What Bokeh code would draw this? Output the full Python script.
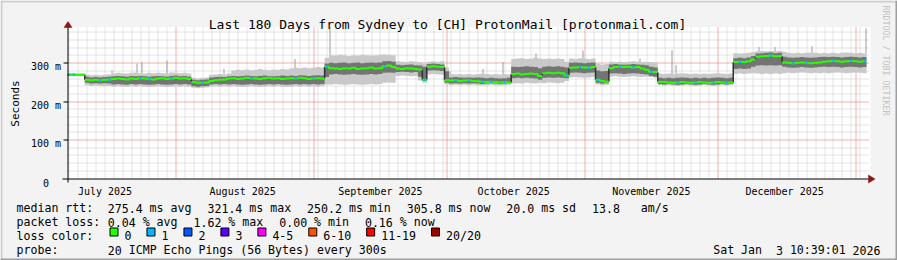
import numpy as np
import pandas as pd
from bokeh.plotting import figure
from bokeh.models import Range1d
from bokeh.core.properties import value
from bokeh.embed import file_html
from bokeh.resources import INLINE

# ---------------- data ----------------
TITLE = "Last 180 Days from Sydney to [CH] ProtonMail [protonmail.com]"
END = pd.Timestamp("2026-01-03 10:39:01")
NDAYS = 180

# median rtt per day (ms)
median_ms = [
    271, 271, 271, 271, 258, 257, 258, 257, 258, 259,
    260, 261, 260, 259, 261, 260, 262, 261, 260, 259,
    261, 262, 260, 261, 263, 261, 262, 260, 252, 250,
    250, 251, 255, 257, 258, 259, 261, 262, 260, 261,
    263, 262, 261, 260, 262, 263, 261, 262, 260, 261,
    262, 261, 263, 262, 260, 261, 262, 261, 292, 288,
    287, 286, 288, 287, 289, 286, 287, 288, 290, 287,
    288, 293, 295, 291, 287, 286, 288, 287, 286, 285,
    258, 292, 293, 292, 291, 257, 256, 257, 255, 256,
    257, 255, 254, 253, 252, 253, 252, 251, 252, 251,
    273, 274, 272, 273, 274, 273, 268, 275, 276, 275,
    276, 275, 269, 289, 290, 291, 290, 289, 291, 258,
    255, 253, 288, 291, 292, 291, 292, 290, 291, 287,
    284, 279, 278, 253, 252, 251, 250, 251, 252, 251,
    250, 251, 252, 251, 250, 251, 252, 251, 250, 251,
    304, 305, 304, 306, 311, 318, 319, 320, 321, 319,
    320, 303, 302, 301, 302, 303, 302, 301, 302, 303,
    305, 306, 307, 306, 305, 306, 307, 306, 305, 306,
]
# smoke: outer (light) band and core (dark) band per day (ms)
out_lo = [
    267, 267, 268, 267, 244, 242, 243, 242, 241, 242,
    240, 241, 240, 239, 241, 240, 241, 240, 239, 240,
    241, 240, 239, 240, 241, 240, 241, 240, 237, 236,
    237, 238, 240, 241, 240, 241, 240, 241, 240, 239,
    240, 241, 240, 239, 240, 241, 240, 241, 240, 239,
    240, 241, 240, 241, 240, 241, 240, 241, 246, 246,
    247, 246, 245, 246, 247, 246, 245, 246, 247, 246,
    247, 250, 251, 250, 268, 269, 268, 267, 268, 256,
    250, 272, 273, 272, 271, 246, 244, 245, 244, 245,
    244, 245, 244, 243, 244, 245, 244, 243, 244, 245,
    248, 249, 248, 250, 249, 248, 250, 249, 251, 250,
    249, 250, 255, 264, 265, 264, 263, 264, 265, 246,
    244, 245, 266, 267, 266, 265, 266, 267, 266, 265,
    266, 265, 264, 244, 243, 244, 243, 242, 243, 244,
    243, 242, 243, 244, 243, 242, 243, 244, 243, 244,
    273, 274, 273, 274, 275, 274, 273, 274, 273, 274,
    273, 275, 276, 275, 276, 277, 276, 275, 276, 275,
    276, 275, 276, 277, 276, 275, 276, 277, 276, 275,
]
out_hi = [
    275, 275, 274, 275, 272, 270, 271, 270, 271, 272,
    274, 276, 275, 274, 276, 277, 275, 274, 276, 275,
    276, 275, 274, 277, 276, 275, 276, 274, 263, 262,
    263, 264, 271, 272, 273, 272, 274, 282, 284, 283,
    285, 283, 284, 286, 284, 283, 285, 284, 286, 285,
    287, 289, 288, 290, 288, 289, 291, 290, 315, 322,
    321, 323, 322, 320, 322, 321, 323, 322, 321, 322,
    323, 324, 323, 322, 306, 305, 304, 306, 305, 304,
    300, 305, 306, 305, 306, 290, 273, 272, 273, 272,
    273, 272, 273, 274, 273, 272, 273, 272, 273, 272,
    312, 313, 314, 312, 313, 315, 313, 312, 313, 312,
    313, 312, 305, 313, 312, 314, 313, 312, 313, 300,
    298, 299, 305, 304, 305, 304, 305, 306, 305, 304,
    305, 304, 303, 274, 273, 274, 273, 274, 275, 274,
    273, 274, 273, 274, 273, 274, 275, 274, 273, 274,
    327, 326, 327, 328, 330, 332, 333, 332, 333, 332,
    333, 331, 328, 327, 328, 327, 328, 329, 328, 327,
    328, 327, 328, 327, 328, 329, 328, 327, 328, 327,
]
core_lo = [
    269, 269, 269, 269, 250, 248, 249, 248, 249, 248,
    246, 247, 246, 245, 247, 246, 247, 246, 245, 246,
    247, 246, 245, 246, 247, 246, 247, 246, 241, 240,
    241, 242, 246, 247, 246, 247, 246, 247, 246, 245,
    246, 247, 246, 245, 246, 247, 246, 247, 246, 245,
    246, 247, 246, 247, 246, 247, 246, 247, 265, 272,
    273, 272, 271, 272, 273, 272, 271, 272, 273, 272,
    273, 276, 277, 276, 278, 279, 278, 277, 278, 266,
    255, 282, 283, 282, 281, 250, 248, 249, 248, 249,
    248, 249, 248, 247, 248, 249, 248, 247, 248, 249,
    262, 263, 262, 263, 262, 261, 258, 263, 264, 263,
    264, 263, 262, 276, 277, 276, 275, 276, 277, 250,
    248, 249, 274, 275, 274, 273, 274, 275, 274, 273,
    272, 268, 266, 247, 246, 247, 246, 245, 246, 247,
    246, 245, 246, 247, 246, 245, 246, 247, 246, 247,
    286, 287, 286, 287, 292, 295, 296, 295, 296, 295,
    296, 292, 290, 289, 290, 291, 290, 289, 290, 291,
    292, 291, 292, 291, 290, 291, 292, 291, 290, 291,
]
core_hi = [
    273, 273, 273, 273, 266, 264, 265, 264, 265, 266,
    267, 268, 267, 266, 268, 267, 268, 267, 266, 267,
    268, 267, 266, 268, 269, 267, 268, 266, 258, 257,
    258, 259, 264, 265, 266, 265, 267, 268, 267, 268,
    269, 268, 267, 268, 269, 268, 267, 268, 269, 268,
    269, 268, 270, 269, 268, 269, 270, 269, 300, 302,
    301, 302, 303, 301, 302, 303, 301, 302, 303, 302,
    303, 306, 307, 305, 297, 296, 297, 298, 296, 295,
    292, 299, 300, 299, 298, 280, 264, 265, 264, 263,
    264, 263, 264, 263, 262, 263, 262, 261, 262, 263,
    292, 291, 292, 293, 292, 291, 288, 292, 293, 292,
    293, 292, 290, 302, 303, 302, 301, 302, 303, 282,
    280, 281, 298, 299, 298, 297, 298, 299, 298, 297,
    296, 292, 290, 263, 262, 263, 262, 263, 264, 263,
    262, 263, 262, 263, 262, 263, 264, 263, 262, 263,
    314, 315, 314, 316, 320, 326, 327, 328, 329, 327,
    328, 318, 316, 315, 316, 317, 316, 315, 316, 317,
    318, 317, 318, 317, 316, 317, 318, 317, 316, 317,
]
# days on which one ping of 20 was lost
loss_days = [0, 1, 7, 9, 16, 18, 23, 30, 41, 51, 55, 58, 71, 80, 87, 90, 93, 95, 98,
             112, 115, 117, 119, 124, 127, 131, 137, 141, 145, 148, 151, 158, 163,
             166, 172, 176, 179]
# single-sample outliers (day, ms)
spike_day = [10.1, 15.8, 16.8, 22.6, 35.3, 51.4, 59.2, 86.3, 93.7, 98.2, 105.7,
             116.2, 129.1, 136.3, 137.0, 155.7, 159.5, 167.8, 179.9]
spike_ms = [282, 300, 304, 308, 286, 312, 395, 280, 286, 304, 326,
            334, 313, 335, 296, 343, 343, 345, 392]

month_starts = ["2025-07-01", "2025-08-01", "2025-09-01", "2025-10-01",
                "2025-11-01", "2025-12-01", "2026-01-01"]
month_labels = ["July 2025", "August 2025", "September 2025", "October 2025",
                "November 2025", "December 2025", "January 2026"]
y_ticks_ms = [0, 100, 200, 300]
y_tick_labels = ["0", "100 m", "200 m", "300 m"]
Y_TOP_MS = 390

rtt_items = ["median rtt:", "275.4 ms avg", "321.4 ms max", "250.2 ms min",
             "305.8 ms now", "20.0 ms sd", "13.8   am/s"]
loss_items = ["packet loss:", "0.04 % avg", "1.62 % max", "0.00 % min", "0.16 % now"]
loss_labels = ["0", "1", "2", "3", "4-5", "6-10", "11-19", "20/20"]
loss_colors = ["#26ff00", "#00b8ff", "#0059ff", "#5e00ff", "#ff00ff",
               "#ff5500", "#ff0000", "#a00000"]
probe_text = "20 ICMP Echo Pings (56 Bytes) every 300s"
stamp = "Sat Jan  3 10:39:01 2026"

# ---------------- layout ----------------
W, H = 897, 260
X0, X1 = 66.5, 866.0          # pixel of first / last day edge
Y0 = 178.5                    # pixel of 0 s
PXS = 150.0 / (Y_TOP_MS / 1000.0)   # pixels per second
PXD = (X1 - X0) / NDAYS
CW = 6.97                     # legend char advance
FONT = value("DejaVu Sans Mono")
BACK = "#f3f3f3"
GRID = "#c8c8c8"
MGRID = "#e06060"
ARROW = "#8b1414"
JUMP_MS = 6


def X(px):
    return (px - X0) / PXD


def Y(py):
    return (Y0 - py) / PXS


def pxx(d):
    return X0 + np.asarray(d, dtype=float) * PXD


def pxy(s):
    return Y0 - np.asarray(s, dtype=float) * PXS


def snap(px):
    return np.floor(px) + 0.5


start = END - pd.Timedelta(days=NDAYS)


def tday(ts):
    return (pd.Timestamp(ts) - start) / pd.Timedelta(days=1)


p = figure(width=W, height=H, x_range=Range1d(X(0), X(W)), y_range=Range1d(Y(H), Y(0)),
           output_backend="svg", toolbar_location=None, x_axis_location=None,
           y_axis_location=None, min_border=0, background_fill_color=BACK,
           border_fill_color=BACK, outline_line_color=None)
p.grid.visible = False

# frame shading
p.quad(left=[X(0), X(0)], right=[X(W), X(2)], top=[Y(0), Y(0)], bottom=[Y(2), Y(H)],
       fill_color="#cecece", line_color=None)
p.quad(left=[X(0), X(W - 2)], right=[X(W), X(W)], top=[Y(H - 2), Y(0)], bottom=[Y(H), Y(H)],
       fill_color="#9e9e9e", line_color=None)
# canvas
p.quad(left=[X(67)], right=[X(870)], top=[Y(26.5)], bottom=[Y(178.5)],
       fill_color="#ffffff", line_color=None)

# grid
GX0, GX1, GY0, GY1 = 67, 869, 27, 178
month_days = [tday(m) for m in month_starts]
major_days = [d for d in month_days if 0 < d < NDAYS]
nov1 = tday("2025-11-01")
minor_days = [nov1 + 2 * k for k in range(-80, 40)]
minor_days = [d for d in minor_days if 0 < d < NDAYS and min(abs(d - m) for m in major_days) > 0.5]
mx = X(snap(pxx(minor_days)))
p.segment(x0=mx, x1=mx, y0=Y(GY0), y1=Y(GY1), line_color=GRID, line_width=1, line_dash="1 1")
minor_ms = [v for v in range(20, Y_TOP_MS, 20) if v % 100]
my = Y(snap(pxy(np.array(minor_ms) / 1000.0) - 0.5))
p.segment(x0=X(GX0), x1=X(GX1), y0=my, y1=my, line_color=GRID, line_width=1, line_dash="1 1")
Mx = X(snap(pxx(major_days)))
p.segment(x0=Mx, x1=Mx, y0=Y(GY0), y1=Y(GY1), line_color=MGRID, line_width=1, line_dash="1 1")
major_ms = [v for v in y_ticks_ms if v > 0]
My = Y(snap(pxy(np.array(major_ms) / 1000.0) - 0.5))
p.segment(x0=X(GX0), x1=X(GX1), y0=My, y1=My, line_color=MGRID, line_width=1, line_dash="1 1")

# smoke
days = np.arange(NDAYS)
xs = np.repeat(days, 2) + np.tile([0, 1], NDAYS)


def step(v):
    return np.repeat(np.asarray(v, dtype=float) / 1000.0, 2)


p.varea(x=xs, y1=step(out_lo), y2=step(out_hi), fill_color="#c9c9c9")
p.varea(x=xs, y1=step(core_lo), y2=step(core_hi), fill_color="#747474")

# spikes
sd = np.array(spike_day)
base = np.array([out_hi[min(int(d), NDAYS - 1)] for d in sd]) / 1000.0
sxp = X(snap(pxx(sd)))
p.segment(x0=sxp, x1=sxp, y0=base, y1=np.array(spike_ms) / 1000.0,
          line_color="#9c9c9c", line_width=1)

# median: green step line, broken (dark) at big jumps, loss dots on top
med = np.array(median_ms, dtype=float) / 1000.0
jumps = [i for i in range(1, NDAYS) if abs(median_ms[i] - median_ms[i - 1]) > JUMP_MS]
bounds = [0] + jumps + [NDAYS]
run_x, run_y = [], []
for a, b in zip(bounds[:-1], bounds[1:]):
    rx = np.repeat(np.arange(a, b + 1), 2)[1:-1]
    ry = np.repeat(med[a:b], 2)
    run_x.append(rx.tolist())
    run_y.append(ry.tolist())
jx = np.array(jumps)
p.segment(x0=jx, x1=jx, y0=med[jx - 1], y1=med[jx], line_color="#303030", line_width=1.5)
p.multi_line(xs=run_x, ys=run_y, line_color=loss_colors[0], line_width=2)
ld = np.array(loss_days)
p.segment(x0=ld + 0.3, x1=ld + 0.75, y0=med[ld], y1=med[ld],
          line_color=loss_colors[1], line_width=2.5)

# axes
p.segment(x0=[X(62)], x1=[X(868)], y0=[Y(178.5)], y1=[Y(178.5)], line_color="#000000", line_width=1)
p.segment(x0=[X(67.5)], x1=[X(67.5)], y0=[Y(182)], y1=[Y(24)], line_color="#000000", line_width=1)
ty = Y(snap(pxy(np.array(major_ms) / 1000.0) - 0.5))
p.segment(x0=X(63), x1=X(67.5), y0=ty, y1=ty, line_color="#000000", line_width=1)
p.patches(xs=[[X(67.5), X(63.5), X(71.5)], [X(874.5), X(868), X(868)]],
          ys=[[Y(21), Y(27), Y(27)], [Y(178.5), Y(174.5), Y(182.5)]],
          fill_color=ARROW, line_color=ARROW, line_width=0.5)


# texts
def text(px, py, s, size, align="left", color="#000000", angle=0.0, baseline="alphabetic"):
    p.text(x=[X(px)], y=[Y(py)], text=[s], text_font=FONT, text_font_size=f"{size}px",
           text_align=align, text_baseline=baseline, text_color=color, angle=angle)


def mono(px, py, s, size=11.6, cw=CW):
    col = 0
    for tok in s.split(" "):
        if tok:
            text(px + col * cw, py, tok, size)
        col += len(tok) + 1


text(447, 24, TITLE, 13, align="center")
text(14.5, 103, "Seconds", 11, align="center", angle=np.pi / 2)
text(885, 5, "RRDTOOL / TOBI OETIKER", 8.3, align="left", color="#c2c2c2", angle=-np.pi / 2)

for ms, lab in zip(y_ticks_ms, y_tick_labels):
    right = 60.5 if " " in lab else 60.5 - 2 * 6.02
    gy = float(snap(pxy(ms / 1000.0) - 0.5))
    text(right, gy + 3.5, lab, 10, align="right")

for m, lab in zip(month_starts, month_labels):
    d = tday(pd.Timestamp(m) + pd.Timedelta(days=15))
    if 0 <= d <= NDAYS:
        text(float(pxx(d)), 190.5, lab, 10, align="center")

LBL_X, VAL_X, GAP = 16, 107.3, 16
rows = [207.5, 221.5, 235.0, 249.5]
for items, py in ((rtt_items, rows[0]), (loss_items, rows[1])):
    mono(LBL_X, py, items[0])
    x = VAL_X
    for it in items[1:]:
        mono(x, py, it)
        x += len(it) * CW + GAP

mono(LBL_X, rows[2], "loss color:")
bx = 109
for lab, col in zip(loss_labels, loss_colors):
    p.quad(left=[X(bx + 0.5)], right=[X(bx + 8.5)], top=[Y(227.5)], bottom=[Y(235.5)],
           fill_color=col, line_color="#000000", line_width=1)
    mono(bx + 15, rows[2], lab)
    bx = bx + 14 + len(lab) * CW + GAP

mono(LBL_X, rows[3], "probe:")
mono(VAL_X, rows[3], probe_text)
mono(880 - len(stamp) * CW, rows[3], stamp)

open("out.html", "w").write(file_html(p, INLINE))
